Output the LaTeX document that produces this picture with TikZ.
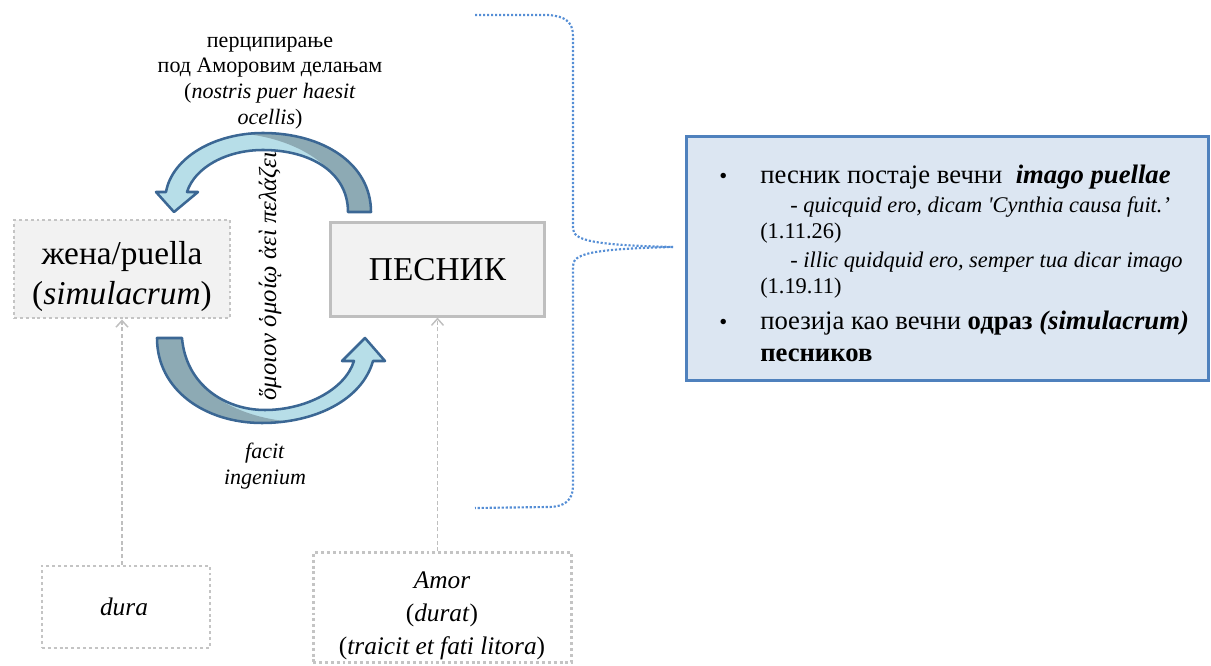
\documentclass[tikz,border=0pt]{standalone}
\usepackage{fontspec}
\setmainfont{Liberation Serif}[
  UprightFont={Liberation Serif},
  ItalicFont={Liberation Serif Italic},
  BoldFont={Liberation Serif Bold},
  BoldItalicFont={Liberation Serif Bold Italic}]
\usetikzlibrary{arrows.meta,calc}

\definecolor{boxgray}{HTML}{F2F2F2}
\definecolor{edgegray}{HTML}{BFBFBF}
\definecolor{dotgray}{HTML}{C4C4C4}
\definecolor{arrowline}{HTML}{3B6794}
\definecolor{arrowlight}{HTML}{B7DEE8}
\definecolor{arrowdark}{HTML}{8DAAB4}
\definecolor{bracecol}{HTML}{558ED5}
\definecolor{notefill}{HTML}{DCE6F2}
\definecolor{noteedge}{HTML}{4F81BD}

% outlines of the two curved block arrows (pixel grid, y downwards)
\newcommand{\upperarrow}{(348,212) -- (371,212)
  .. controls (371,163) and (322,133) .. (263,133)
  .. controls (214,133) and (172,158) .. (166,192)
  -- (156,192) -- (174,212) -- (198,192) -- (187,192)
  .. controls (195,167) and (227,150) .. (263,150)
  .. controls (310,150) and (348,172) .. (348,212) -- cycle}
\newcommand{\lowerarrow}{(157,338) -- (182,338)
  .. controls (186,385) and (225,410) .. (265,410)
  .. controls (305,410) and (345,390) .. (354,361)
  -- (342,361) -- (365,338) -- (385,361) -- (373,361)
  .. controls (362,400) and (315,423) .. (262,423)
  .. controls (205,423) and (157,390) .. (157,338) -- cycle}

\begin{document}
\begin{tikzpicture}[x=0.75pt,y=-0.75pt,
  small/.style={font=\fontsize{16.5}{19.3}\selectfont, align=center, inner sep=0pt},
  mid/.style={font=\fontsize{19}{25}\selectfont, align=center, inner sep=0pt},
  big/.style={font=\fontsize{25}{30}\selectfont, align=center, inner sep=0pt},
  dotbox/.style={draw=dotgray, line width=2.2pt, dash pattern=on 2.2pt off 2.2pt},
  solidbox/.style={draw=edgegray, line width=2.2pt, fill=boxgray},
  feed/.style={draw=edgegray, line width=1.1pt, dash pattern=on 3pt off 2pt,
    -{Straight Barb[length=5pt,width=9pt,line width=1.1pt]}},
  blockarrow/.style={draw=arrowline, line width=1.9pt, line join=round},
  notebox/.style={draw=noteedge, line width=2.25pt, fill=notefill},
  notetext/.style={anchor=base west, inner sep=0pt, font=\fontsize{20}{23}\selectfont},
  notesub/.style={anchor=base west, inner sep=0pt, font=\fontsize{16.8}{20}\selectfont},
  bulletmark/.style={anchor=base west, inner sep=0pt, font=\fontsize{17}{20}\selectfont},
  bracket/.style={draw=bracecol, line width=1.6pt, dash pattern=on 1.6pt off 1.4pt}
]
\useasboundingbox (0,0) rectangle (1211,666);

% boxes
\node[dotbox, fill=boxgray, minimum width=162pt, minimum height=73.5pt] (puellabox) at (122,269) {};
\node[big] (puella) at (122,276) {жена/puella\\(\textit{simulacrum})};
\node[solidbox, minimum width=161pt, minimum height=70pt, big] (poet) at (437.5,269.5) {ПЕСНИК};
\node[dotbox, fill=white, minimum width=126pt, minimum height=61.5pt] (durabox) at (126,607) {};
\node[mid] (dura) at (124,607) {\textit{dura}};
\node[dotbox, fill=white, minimum width=194pt, minimum height=82pt] (amorbox) at (442.5,607.5) {};
\node[mid] (amor) at (442,616) {\textit{Amor}\\(\textit{durat})\\(\textit{traicit et fati litora})};

% feeding lines from the lower boxes
\draw[feed] (durabox.north -| puellabox.south) -- (puellabox.south);
\draw[feed] (amorbox.north -| poet.south) -- (poet.south);

% curved block arrows
\fill[arrowlight] \upperarrow;
\begin{scope}
  \clip \upperarrow;
  \fill[arrowdark] (233,133) .. controls (290,135) and (346,165) .. (348,212)
    -- (395,212) -- (395,110) -- (233,110) -- cycle;
\end{scope}
\path[blockarrow] \upperarrow;

\fill[arrowlight] \lowerarrow;
\begin{scope}
  \clip \lowerarrow;
  \fill[arrowdark] (182,338) .. controls (185,392) and (240,419) .. (296,422)
    -- (296,445) -- (140,445) -- (140,338) -- cycle;
\end{scope}
\path[blockarrow] \lowerarrow;

% labels around the cycle
\node[small] (percep) at (270,83) {перципирање\\под Аморовим делањам\\(\textit{nostris puer haesit}\\\textit{ocellis})};
\node[small, font=\fontsize{18.5}{22}\selectfont, rotate=90] (greek) at (270,276) {\textit{ὅμοιον ὁμοίῳ ἀεὶ πελάζει}};
\node[small] (facit) at (265,466) {\textit{facit}\\\textit{ingenium}};

% dotted bracket pointing to the note
\coordinate (tip) at (673,247);
\draw[bracket] (475,15) -- (548,15) .. controls (565,16) and (573,22) .. (573,36)
  -- (573,228) .. controls (573,240) and (590,245) .. (tip);
\draw[bracket] (tip) .. controls (590,249) and (573,254) .. (573,266)
  -- (573,486) .. controls (573,500) and (565,507) .. (548,507) -- (475,508);

% note box
\node[notebox, minimum width=392pt, minimum height=183pt] (note) at (947.5,259) {};
\node[bulletmark] (b1) at (719,184) {•};
\node[notetext] (t1) at (760,184) {песник постаје вечни \ \textbf{\textit{imago puellae}}};
\node[notesub] (t2) at (790,213) {\textit{- quicquid ero, dicam \textquotesingle Cynthia causa fuit.’}};
\node[notesub] (t3) at (760,239) {(1.11.26)};
\node[notesub] (t4) at (790,268) {\textit{- illic quidquid ero, semper tua dicar imago}};
\node[notesub] (t5) at (760,294) {(1.19.11)};
\node[bulletmark] (b2) at (719,330) {•};
\node[notetext] (t6) at (760,330) {поезија као вечни \textbf{одраз \textit{(simulacrum)}}};
\node[notetext] (t7) at (760,362) {\textbf{песников}};
\end{tikzpicture}
\end{document}
